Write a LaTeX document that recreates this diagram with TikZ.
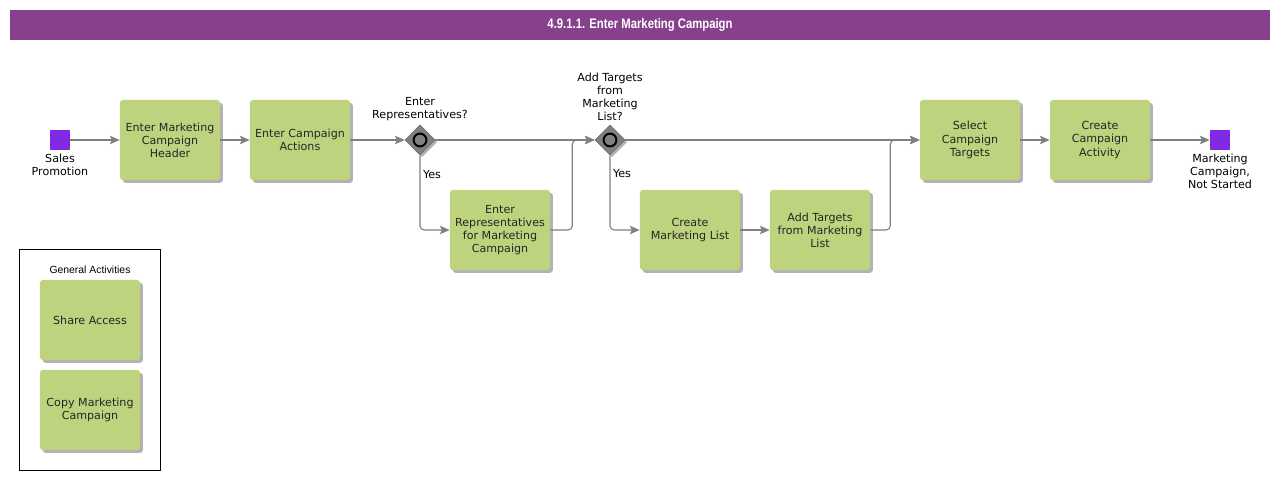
\documentclass[tikz,border=0pt]{standalone}
\usepackage{fontspec}
\setmainfont{DejaVu Sans}
\newfontfamily\titlefont{Liberation Sans}[FakeStretch=0.82]
\newfontfamily\framefont{Liberation Sans}
\usetikzlibrary{shapes.geometric,shadows,arrows.meta}
\definecolor{titlepurple}{RGB}{134,64,140}
\definecolor{eventpurple}{RGB}{128,42,226}
\definecolor{taskgreen}{RGB}{189,211,126}
\definecolor{flowgray}{RGB}{128,128,128}
\begin{document}
\begin{tikzpicture}[
    x=0.025cm, y=-0.025cm,
    task/.style={
        rectangle, rounded corners=2pt, fill=taskgreen,
        minimum width=2.5cm, minimum height=2cm, inner sep=1pt,
        align=center, font=\fontsize{7.9}{9.3}\selectfont, text=black!85,
        drop shadow={shadow xshift=2pt, shadow yshift=-2pt, fill=black, opacity=0.3}
    },
    event/.style={rectangle, fill=eventpurple, minimum size=0.5cm, inner sep=0pt},
    gateway/.style={
        diamond, fill=flowgray, draw=black!55, minimum size=0.75cm, inner sep=0pt,
        drop shadow={shadow xshift=1.5pt, shadow yshift=-1.5pt, fill=black, opacity=0.3}
    },
    ring/.style={draw=black, line width=1.4pt},
    evtext/.style={align=center, inner sep=0pt, font=\fontsize{7.9}{9.3}\selectfont},
    flow/.style={-{Stealth[length=7pt,width=6pt,inset=1.5pt]}, draw=flowgray, line width=0.8pt, rounded corners=3pt}
]
\useasboundingbox (0,0) rectangle (1280,480);

% Title
\node[fill=titlepurple, minimum width=31.5cm, minimum height=0.75cm, text=white,
      font=\titlefont\bfseries\fontsize{9.8}{11}\selectfont] (title) at (640,25) {4.9.1.1. Enter Marketing Campaign};

% Events
\node[event] (start) at (60,140) {};
\node[evtext, anchor=north] (starttext) at (60,154) {Sales\\Promotion};
\node[event] (finish) at (1220,140) {};
\node[evtext, anchor=north] (finishtext) at (1220,154) {Marketing\\Campaign,\\Not Started};

% Main flow
\node[task] (header) at (170,140) {Enter Marketing\\Campaign\\Header};
\node[task] (actions) at (300,140) {Enter Campaign\\Actions};
\node[gateway] (gwreps) at (420,140) {};
\draw[ring] (gwreps.center) circle (0.16cm);
\node[evtext, anchor=south] (gwrepstext) at (420,121) {Enter\\Representatives?};
\node[task] (reps) at (500,230) {Enter\\Representatives\\for Marketing\\Campaign};
\node[evtext] (yes1) at (432,175) {Yes};
\node[gateway] (gwtargets) at (610,140) {};
\draw[ring] (gwtargets.center) circle (0.16cm);
\node[evtext, anchor=south] (gwtargetstext) at (610,121) {Add Targets\\from\\Marketing\\List?};
\node[task] (mklist) at (690,230) {Create\\Marketing List};
\node[task] (addtargets) at (820,230) {Add Targets\\from Marketing\\List};
\node[evtext] (yes2) at (622,174) {Yes};
\node[task] (select) at (970,140) {Select\\Campaign\\Targets};
\node[task] (activity) at (1100,140) {Create\\Campaign\\Activity};

% General activities
\node[draw=black, line width=0.7pt, minimum width=3.5cm, minimum height=5.5cm] (general) at (90,360) {};
\node[inner sep=0pt, font=\framefont\fontsize{7.4}{8}\selectfont] (generaltext) at (90,270) {General Activities};
\node[task] (share) at (90,320) {Share Access};
\node[task] (copy) at (90,410) {Copy Marketing\\Campaign};

% Sequence flows
\draw[flow] (start) -- (header);
\draw[flow] (header) -- (actions);
\draw[flow] (actions) -- (gwreps);
\draw[flow] (gwreps) -- (gwtargets);
\draw[flow] (gwreps.south) |- (reps.west);
\draw[flow] (reps.east) -- ++(22,0) |- (gwtargets.west);
\draw[flow] (gwtargets) -- (select);
\draw[flow] (gwtargets.south) |- (mklist.west);
\draw[flow] (mklist) -- (addtargets);
\draw[flow] (addtargets.east) -- ++(20,0) |- (select.west);
\draw[flow] (select) -- (activity);
\draw[flow] (activity) -- (finish);

\end{tikzpicture}
\end{document}
